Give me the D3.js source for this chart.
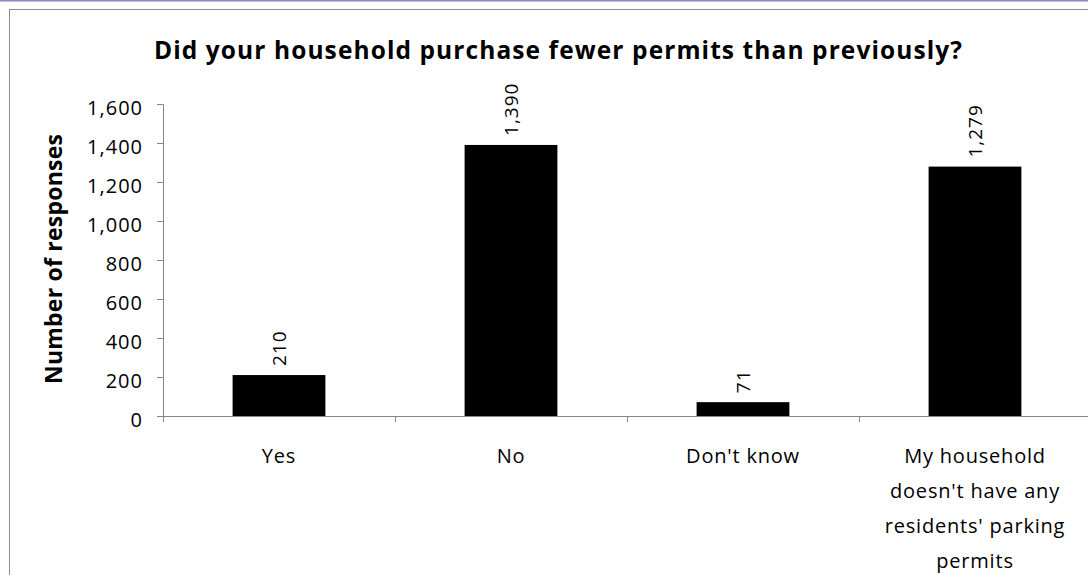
<!DOCTYPE html>
<html>
<head>
<meta charset="utf-8">
<script src="https://cdn.jsdelivr.net/npm/d3@7"></script>
<style>
  html, body { margin: 0; padding: 0; background: #fff; }
  svg { display: block; }
  text { font-family: "Open Sans", sans-serif; fill: #000; }
</style>
</head>
<body>
<script>
const categories = ["Yes", "No", "Don't know", "My household doesn't have any residents' parking permits"];
const values = [210, 1390, 71, 1279];
const yTicks = [0, 200, 400, 600, 800, 1000, 1200, 1400, 1600];
const title = "Did your household purchase fewer permits than previously?";
const yTitle = "Number of responses";

const W = 1088, H = 575;
const svg = d3.select("body").append("svg").attr("width", W).attr("height", H);

// top accent line and chart frame
svg.append("line").attr("x1", 0).attr("x2", W).attr("y1", 0.5).attr("y2", 0.5)
  .attr("stroke", "#8a8ac8").attr("stroke-width", 2);
svg.append("rect").attr("x", 9.5).attr("y", 9.5).attr("width", W + 20).attr("height", H + 20)
  .attr("fill", "none").attr("stroke", "#8c8c8c").attr("stroke-width", 1);

const plot = { left: 163, right: 1091, top: 104, bottom: 416 };

const x = d3.scaleBand().domain(categories).range([plot.left, plot.right]).paddingInner(0.6).paddingOuter(0.3);
const y = d3.scaleLinear().domain([0, 1600]).range([plot.bottom, plot.top]);

// title
svg.append("text").attr("x", 558).attr("y", 59).attr("text-anchor", "middle")
  .attr("font-weight", "bold").attr("font-size", 24.5)
  .attr("textLength", 808).attr("lengthAdjust", "spacing").text(title);

// y title
svg.append("text").attr("transform", `translate(62,259) rotate(-90)`)
  .attr("text-anchor", "middle").attr("font-weight", "bold").attr("font-size", 23)
  .attr("textLength", 250).attr("lengthAdjust", "spacing").text(yTitle);

// bars
svg.append("g").selectAll("rect").data(values).join("rect")
  .attr("x", (d, i) => x(categories[i]))
  .attr("y", d => y(d))
  .attr("width", x.bandwidth())
  .attr("height", d => y(0) - y(d))
  .attr("fill", "#000");

// value labels
svg.append("g").selectAll("text").data(values).join("text")
  .attr("transform", (d, i) => `translate(${x(categories[i]) + x.bandwidth() / 2 + 7},${y(d) - 9}) rotate(-90)`)
  .attr("font-size", 19).attr("letter-spacing", 1)
  .text(d => d3.format(",")(d));

// y axis
const yAxis = svg.append("g").attr("transform", `translate(${plot.left},0)`)
  .call(d3.axisLeft(y).tickValues(yTicks).tickFormat(d3.format(",")).tickSize(6).tickPadding(14));
yAxis.select(".domain").attr("stroke", "#868686");
yAxis.selectAll(".tick line").attr("stroke", "#868686");
yAxis.selectAll(".tick text").attr("font-size", 20).attr("font-family", "Open Sans")
  .attr("letter-spacing", 1).attr("fill", "#000").attr("dy", "0.5em");

// x axis (boundary ticks)
const xAxisG = svg.append("g");
xAxisG.append("line").attr("x1", plot.left - 6).attr("x2", plot.right).attr("y1", plot.bottom + 0.5).attr("y2", plot.bottom + 0.5)
  .attr("stroke", "#868686");
const step = x.step();
const boundaries = categories.map((c, i) => x(c) - x.paddingInner() * step / 2);
xAxisG.selectAll("line.b").data(boundaries.concat([plot.right])).join("line").attr("class", "b")
  .attr("x1", d => Math.round(d) + 0.5).attr("x2", d => Math.round(d) + 0.5)
  .attr("y1", plot.bottom).attr("y2", plot.bottom + 6).attr("stroke", "#868686");

// category labels with wrapping
const lineH = 35;
const maxW = 205;
categories.forEach((c, i) => {
  const t = svg.append("text").attr("text-anchor", "middle").attr("font-size", 20).attr("letter-spacing", 0.8)
    .attr("x", x(c) + x.bandwidth() / 2).attr("y", 463);
  const words = c.split(" ");
  let line = [];
  let lines = [];
  const probe = svg.append("text").attr("font-size", 20).attr("letter-spacing", 0.8);
  words.forEach(w => {
    const test = line.concat([w]).join(" ");
    probe.text(test);
    if (probe.node().getComputedTextLength() > maxW && line.length) {
      lines.push(line.join(" "));
      line = [w];
    } else line.push(w);
  });
  lines.push(line.join(" "));
  probe.remove();
  lines.forEach((l, k) => {
    t.append("tspan").attr("x", x(c) + x.bandwidth() / 2).attr("y", 463 + k * lineH).text(l);
  });
});
</script>
</body>
</html>
